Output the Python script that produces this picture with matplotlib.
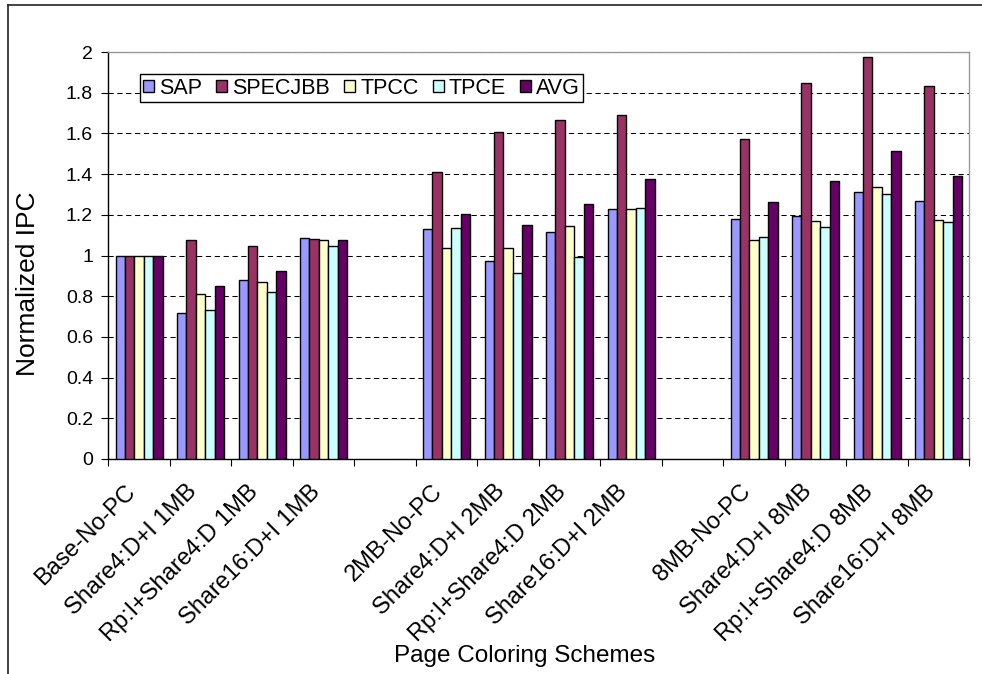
import matplotlib
matplotlib.use('Agg')
import matplotlib.pyplot as plt
from matplotlib.lines import Line2D
from matplotlib.ticker import FuncFormatter
from matplotlib.transforms import ScaledTranslation
import numpy as np

plt.rcParams['font.family'] = ['Liberation Sans', 'DejaVu Sans']

schemes = ['Base-No-PC', 'Share4:D+I 1MB', 'Rp:I+Share4:D 1MB', 'Share16:D+I 1MB',
           '2MB-No-PC', 'Share4:D+I 2MB', 'Rp:I+Share4:D 2MB', 'Share16:D+I 2MB',
           '8MB-No-PC', 'Share4:D+I 8MB', 'Rp:I+Share4:D 8MB', 'Share16:D+I 8MB']

sap     = [1.00, 0.716, 0.882, 1.086, 1.132, 0.975, 1.114, 1.227, 1.178, 1.196, 1.311, 1.270]
specjbb = [1.00, 1.076, 1.046, 1.082, 1.410, 1.607, 1.666, 1.693, 1.574, 1.846, 1.974, 1.834]
tpcc    = [1.00, 0.809, 0.872, 1.076, 1.037, 1.038, 1.143, 1.227, 1.077, 1.170, 1.339, 1.173]
tpce    = [1.00, 0.730, 0.821, 1.048, 1.133, 0.916, 0.992, 1.234, 1.091, 1.138, 1.300, 1.166]
avg     = [1.00, 0.849, 0.923, 1.076, 1.204, 1.152, 1.254, 1.377, 1.264, 1.365, 1.513, 1.393]

series = [('SAP', sap, '#9999FF'),
          ('SPECJBB', specjbb, '#993366'),
          ('TPCC', tpcc, '#FFFFCC'),
          ('TPCE', tpce, '#CCFFFF'),
          ('AVG', avg, '#660066')]

# one empty slot between each group of four schemes
slots = np.array([i + i // 4 for i in range(len(schemes))])
n_slots = slots[-1] + 1

fig = plt.figure(figsize=(9.82, 6.74), dpi=100)
ax = fig.add_axes([0.1103, 0.319, 0.8768, 0.6038])

bw = 0.153
for k, (name, vals, col) in enumerate(series):
    x = slots + 0.5 + (k - 2) * bw
    ax.bar(x, vals, width=bw, color=col, edgecolor='black', linewidth=1.0, label=name, zorder=3)

ax.set_xlim(0, n_slots)
ax.set_ylim(0, 2)
ax.set_yticks(np.arange(0, 2.01, 0.2))
ax.yaxis.set_major_formatter(FuncFormatter(lambda v, p: f'{v:g}'))
ax.tick_params(axis='y', direction='out', length=5, width=0.8, pad=6, labelsize=14)

ax.set_xticks(np.arange(0, n_slots + 1))
ax.set_xticklabels([])
ax.tick_params(axis='x', which='major', direction='out', length=5, width=0.8)
ax.set_xticks(slots + 0.5, minor=True)
ax.set_xticklabels(schemes, minor=True, rotation=45, ha='right', va='center',
                   rotation_mode='anchor', fontsize=17)
ax.tick_params(axis='x', which='minor', length=0, pad=21)
shift = ScaledTranslation(-7 / 100, 0, fig.dpi_scale_trans)
for lab in ax.xaxis.get_minorticklabels():
    lab.set_transform(lab.get_transform() + shift)

ax.set_axisbelow(True)
ax.yaxis.grid(True, color='black', linestyle=(0, (5, 3.5)), linewidth=0.75)

for s in ['top', 'right']:
    ax.spines[s].set_color('#999999')
    ax.spines[s].set_linewidth(1)
for s in ['left', 'bottom']:
    ax.spines[s].set_color('black')
    ax.spines[s].set_linewidth(1)

ax.set_ylabel('Normalized IPC', fontsize=19, va='center')
ax.yaxis.set_label_coords(-0.093, 0.43)
ax.set_xlabel('Page Coloring Schemes', fontsize=17.5, va='center')
ax.xaxis.set_label_coords(0.483, -0.484)

leg = ax.legend(loc='upper left', bbox_to_anchor=(0.0368, 0.945), borderaxespad=0,
                ncol=5, fontsize=15.5, handlelength=0.5, handleheight=0.5,
                handletextpad=0.25, columnspacing=0.65, borderpad=0.15,
                fancybox=False, framealpha=1, edgecolor='black')
leg.get_frame().set_linewidth(1)

# outer chart frame (top and left edges visible)
fig.add_artist(Line2D([8 / 982, 1], [1 - 5 / 674, 1 - 5 / 674], color='#222222', linewidth=1.2))
fig.add_artist(Line2D([8 / 982, 8 / 982], [0, 1 - 5 / 674], color='#222222', linewidth=1.2))

fig.savefig('out.png', dpi=100)
